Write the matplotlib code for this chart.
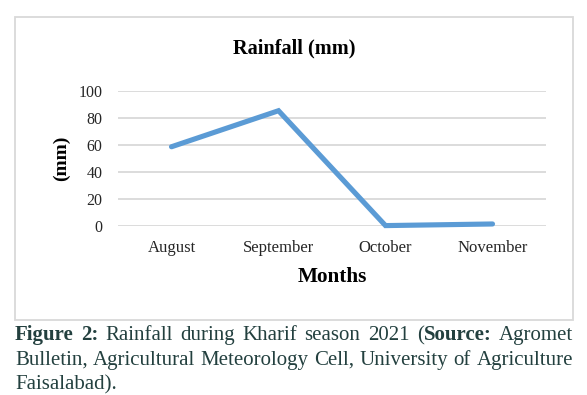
import matplotlib
matplotlib.use("Agg")
import matplotlib.pyplot as plt
from matplotlib.patches import Rectangle

# data
months = ["August", "September", "October", "November"]
rainfall = [58.7, 85.4, 0.3, 1.5]
yticks = [0, 20, 40, 60, 80, 100]

W, H = 587, 395
fig = plt.figure(figsize=(W / 100, H / 100), dpi=100)
fig.patch.set_facecolor("white")

def fx(x):
    return x / W

def fy(y):
    return 1 - y / H

serif = "Liberation Serif"
txt = "#262626"

# chart frame
fig.patches.append(Rectangle((fx(15), fy(320)), fx(573) - fx(15), fy(17) - fy(320),
                             transform=fig.transFigure, fill=False,
                             edgecolor="#d9d9d9", linewidth=1.3))

ax = fig.add_axes([fx(118), fy(226), fx(546) - fx(118), fy(91) - fy(226)])
x = list(range(len(months)))
ax.plot(x, rainfall, color="#5b9bd5", linewidth=3.7, solid_capstyle="round",
        solid_joinstyle="miter", clip_on=False, zorder=3)
ax.set_xlim(-0.5, len(months) - 0.5)
ax.set_ylim(0, 100)
ax.set_yticks(yticks)
ax.set_yticklabels([str(v) for v in yticks], fontfamily=serif, fontsize=11.5, color=txt)
ax.set_xticks(x)
ax.set_xticklabels(months, fontfamily=serif, fontsize=12, color=txt)
ax.tick_params(axis="y", length=0, pad=11)
ax.tick_params(axis="x", length=0, pad=10)
for s in ax.spines.values():
    s.set_visible(False)
ax.grid(axis="y", color="#d9d9d9", linewidth=1.3)
ax.set_axisbelow(True)

fig.text(fx(294), fy(48), "Rainfall (mm)", ha="center", va="center",
         fontfamily=serif, fontsize=14.7, fontweight="bold", color="black")
fig.text(fx(332), fy(277), "Months", ha="center", va="center",
         fontfamily=serif, fontsize=15.3, fontweight="bold", color="black")
fig.text(fx(61), fy(158), "(mm)", ha="center", va="center", rotation=90,
         fontfamily=serif, fontsize=14, fontweight="bold", color="black")

# caption, justified between the frame edges
cap_col = "#23403f"
cap_size = 15
caption = [
    [[("Figure", "bold")], [("2:", "bold")], [("Rainfall", "normal")], [("during", "normal")],
     [("Kharif", "normal")], [("season", "normal")], [("2021", "normal")],
     [("(", "normal"), ("Source:", "bold")], [("Agromet", "normal")]],
    [[(w, "normal")] for w in "Bulletin, Agricultural Meteorology Cell, University of Agriculture".split()],
    [[(w, "normal")] for w in "Faisalabad).".split()],
]
baselines = [340, 365, 389]
left, right = 15, 573

renderer = fig.canvas.get_renderer()

def width_of(s, weight):
    t = fig.text(0, 0, s, fontfamily=serif, fontsize=cap_size, fontweight=weight)
    w = t.get_window_extent(renderer).width
    t.remove()
    return w

space_w = width_of("a b", "normal") - width_of("ab", "normal")
for i, (line, yb) in enumerate(zip(caption, baselines)):
    widths = [[width_of(p, wt) for p, wt in word] for word in line]
    total = sum(sum(w) for w in widths)
    if i < len(caption) - 1 and len(line) > 1:
        gap = (right - left - total) / (len(line) - 1)
    else:
        gap = space_w
    xpos = left
    for word, ws in zip(line, widths):
        for (p, wt), w in zip(word, ws):
            fig.text(fx(xpos), fy(yb), p, fontfamily=serif, fontsize=cap_size,
                     fontweight=wt, color=cap_col, va="baseline", ha="left")
            xpos += w
        xpos += gap

fig.savefig("out.png", dpi=100)
